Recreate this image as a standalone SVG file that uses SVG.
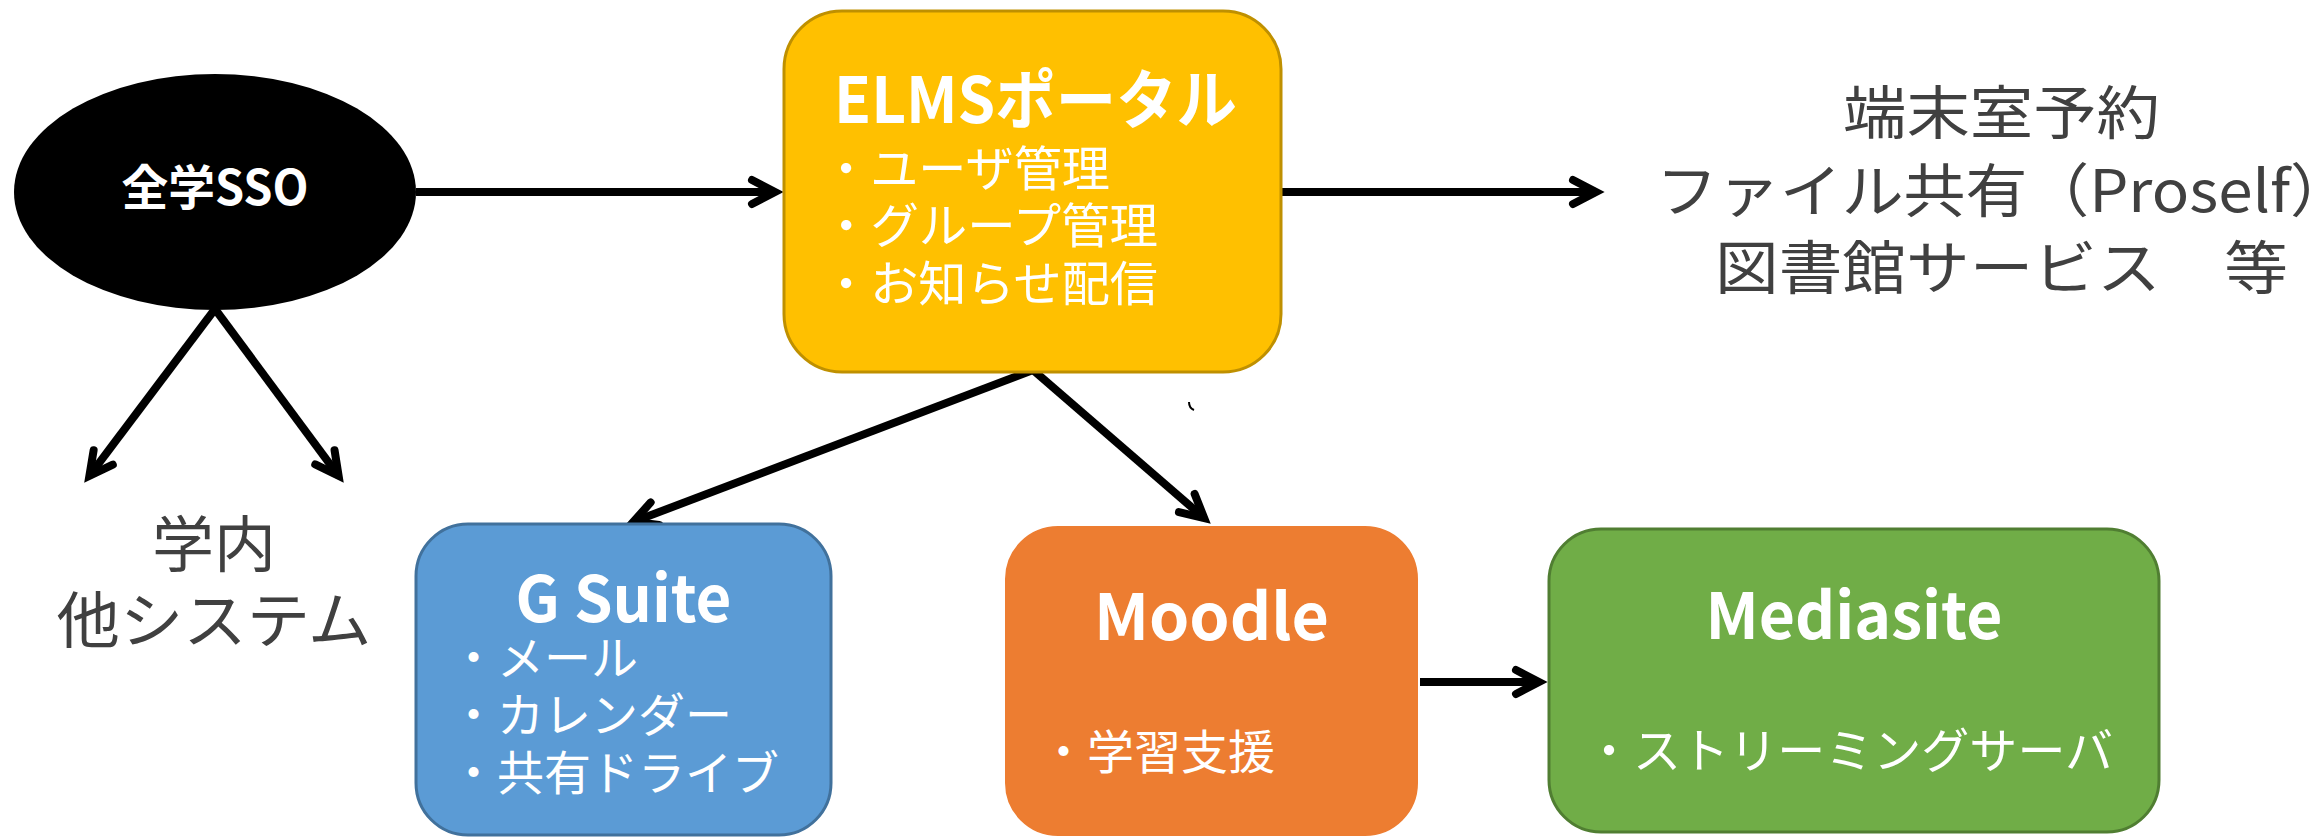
<svg xmlns="http://www.w3.org/2000/svg" width="2323" height="837" viewBox="0 0 2323 837">
<style>
.title{font-family:"Noto Sans CJK JP","Liberation Sans",sans-serif;font-weight:bold;fill:#fff;}
.item{font-family:"Noto Sans CJK JP","Liberation Sans",sans-serif;font-weight:normal;fill:#fff;}
.plain{font-family:"Noto Sans CJK JP","Liberation Sans",sans-serif;font-weight:normal;fill:#404040;}
.conn{fill:none;stroke:#000;stroke-width:8;}
</style>
<defs>
<marker id="arr" markerUnits="userSpaceOnUse" viewBox="-40 -25 60 50" refX="0" refY="0" markerWidth="60" markerHeight="50" orient="auto" overflow="visible">
<path d="M-23,-12 L0,0 L-23,12" fill="none" stroke="#000" stroke-width="8" stroke-linecap="round" stroke-linejoin="miter"/>
</marker>
</defs>
<rect width="2323" height="837" fill="#fff"/>
<g id="connectors">
<line class="conn" x1="416" y1="192" x2="775" y2="192" marker-end="url(#arr)"/>
<line class="conn" x1="1281" y1="192" x2="1596" y2="192" marker-end="url(#arr)"/>
<line class="conn" x1="215" y1="309" x2="89.4" y2="475.8" marker-end="url(#arr)"/>
<line class="conn" x1="215" y1="309" x2="338.6" y2="475.8" marker-end="url(#arr)"/>
<line class="conn" x1="1033" y1="370" x2="633.4" y2="521.8" marker-end="url(#arr)"/>
<line class="conn" x1="1033" y1="370" x2="1204.2" y2="518.1" marker-end="url(#arr)"/>
<line class="conn" x1="1420" y1="682" x2="1539" y2="682" marker-end="url(#arr)"/>
</g>
<path d="M1189,402 Q1189,408 1194,410" fill="none" stroke="#000" stroke-width="2"/>
<g id="sso">
<ellipse cx="215" cy="192" rx="201" ry="118" fill="#000"/>
<text class="title" x="215" y="205" font-size="48" text-anchor="middle" textLength="187" lengthAdjust="spacingAndGlyphs">全学SSO</text>
</g>
<g id="elms">
<rect x="784" y="11" width="497" height="361" rx="58" fill="#FFC000" stroke="#BF9000" stroke-width="3"/>
<text class="title" x="834" y="123" font-size="64" textLength="403" lengthAdjust="spacingAndGlyphs">ELMSポータル</text>
<text class="item" x="822" y="186" font-size="48" textLength="288" lengthAdjust="spacingAndGlyphs">・ユーザ管理</text>
<text class="item" x="822" y="243" font-size="48" textLength="336" lengthAdjust="spacingAndGlyphs">・グループ管理</text>
<text class="item" x="822" y="301" font-size="48" textLength="336" lengthAdjust="spacingAndGlyphs">・お知らせ配信</text>
</g>
<g id="others-right">
<text class="plain" x="1843" y="134" font-size="58" textLength="317" lengthAdjust="spacingAndGlyphs">端末室予約</text>
<text class="plain" x="1656" y="212" font-size="58" textLength="696" lengthAdjust="spacingAndGlyphs">ファイル共有（Proself）</text>
<text class="plain" x="1715" y="289" font-size="58" textLength="573" lengthAdjust="spacingAndGlyphs">図書館サービス　等</text>
</g>
<g id="others-left">
<text class="plain" x="214" y="567" font-size="61" text-anchor="middle" textLength="124" lengthAdjust="spacingAndGlyphs">学内</text>
<text class="plain" x="214" y="643" font-size="61" text-anchor="middle" textLength="315" lengthAdjust="spacingAndGlyphs">他システム</text>
</g>
<g id="gsuite">
<rect x="416" y="524" width="415" height="311" rx="52" fill="#5B9BD5" stroke="#41719C" stroke-width="3"/>
<text class="title" x="623.5" y="622" font-size="64" text-anchor="middle" textLength="216" lengthAdjust="spacingAndGlyphs">G Suite</text>
<text class="item" x="450" y="675" font-size="47" textLength="188" lengthAdjust="spacingAndGlyphs">・メール</text>
<text class="item" x="450" y="732" font-size="47" textLength="282" lengthAdjust="spacingAndGlyphs">・カレンダー</text>
<text class="item" x="450" y="790" font-size="47" textLength="329" lengthAdjust="spacingAndGlyphs">・共有ドライブ</text>
</g>
<g id="moodle">
<rect x="1006" y="527" width="411" height="308" rx="52" fill="#ED7D31" stroke="#ED7D31" stroke-width="2"/>
<text class="title" x="1211.5" y="640" font-size="64" text-anchor="middle" textLength="235" lengthAdjust="spacingAndGlyphs">Moodle</text>
<text class="item" x="1040" y="769" font-size="47" textLength="235" lengthAdjust="spacingAndGlyphs">・学習支援</text>
</g>
<g id="mediasite">
<rect x="1549" y="529" width="610" height="303" rx="52" fill="#70AD47" stroke="#507E32" stroke-width="3"/>
<text class="title" x="1854" y="639" font-size="64" text-anchor="middle" textLength="297" lengthAdjust="spacingAndGlyphs">Mediasite</text>
<text class="item" x="1585" y="768" font-size="48" textLength="528" lengthAdjust="spacingAndGlyphs">・ストリーミングサーバ</text>
</g>
</svg>
